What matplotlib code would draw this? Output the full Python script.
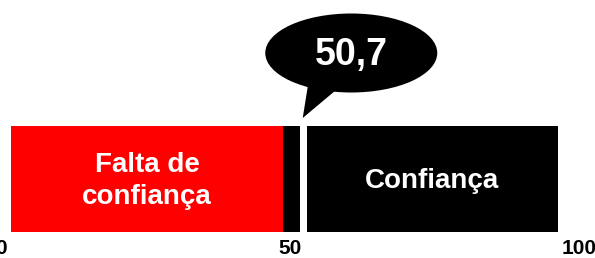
import matplotlib.pyplot as plt
from matplotlib.patches import Ellipse, Polygon

# segment values (0-100 scale)
seg_starts = [1.7, 48.8, 52.9]
seg_ends = [48.8, 51.7, 96.4]
seg_colors = ['#ff0000', '#000000', '#000000']
seg_labels = ['Falta de\nconfiança', '', 'Confiança']
marker_value = 52.3
marker_text = '50,7'
tick_values = [0, 50, 100]
tick_labels = ['0', '50', '100']

PX = 5.78  # pixels per unit

fig = plt.figure(figsize=(5.95, 2.58), dpi=100)
ax = fig.add_axes([0, 0, 1, 1])
ax.set_xlim(-1 / PX, 594 / PX)
ax.set_ylim(258, 0)
ax.axis('off')

bar_y, bar_h = 179, 106
for s, e, c, lab in zip(seg_starts, seg_ends, seg_colors, seg_labels):
    ax.barh(bar_y, e - s, left=s, height=bar_h, color=c, linewidth=0)
    if lab:
        ax.text((s + e) / 2, bar_y + 2, lab, color='white', ha='center', va='center',
                fontsize=20, fontweight='bold', family='Liberation Sans', linespacing=1.35)

# white gap marking the value
ax.plot([marker_value, marker_value], [bar_y - bar_h / 2, bar_y + bar_h / 2], color='white', lw=5,
        solid_capstyle='butt')

# speech bubble
ex, ey = marker_value + 8.3, 53
ax.add_patch(Ellipse((ex, ey), 172 / PX, 79, color='black', lw=0))
ax.add_patch(Polygon([(marker_value - 0.1, 118), (marker_value + 0.9, 82), (marker_value + 6.5, 86)],
                     closed=True, color='black', lw=0))
ax.text(ex, ey + 2, marker_text, color='white', ha='center', va='center', fontsize=27,
        fontweight='bold', family='Liberation Sans')

for v, t in zip(tick_values, tick_labels):
    ax.text(v, 248, t, ha='center', va='center', fontsize=15, fontweight='bold',
            family='Liberation Sans')

fig.savefig('out.png', dpi=100)
